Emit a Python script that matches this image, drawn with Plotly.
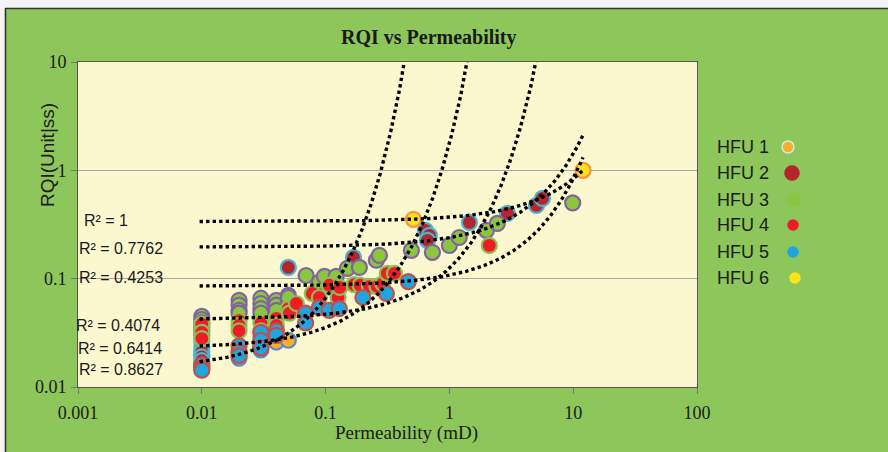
import numpy as np
import plotly.graph_objects as go

# ---------------- data: permeability (mD) and RQI per flow unit ----------------
HFU1_K = [0.01, 0.01, 0.01, 0.02, 0.02, 0.03, 0.03, 0.04, 0.05]
HFU1_RQI = [0.0195, 0.0165, 0.015, 0.0185, 0.0205, 0.022, 0.0245, 0.026, 0.027]

HFU2_K = [0.01, 0.01, 0.01, 0.01, 0.01, 0.05, 0.168, 0.64, 0.69, 0.665, 1.45, 2.94, 5.05, 5.64]
HFU2_RQI = [0.026, 0.023, 0.021, 0.019, 0.0175, 0.127, 0.157, 0.279, 0.251, 0.226, 0.331, 0.401, 0.475, 0.551]

HFU3_K = [0.01, 0.01, 0.01, 0.01, 0.01, 0.01, 0.02, 0.02, 0.02, 0.02, 0.03, 0.03, 0.03, 0.03,
          0.04, 0.04, 0.04, 0.05, 0.05, 0.05, 0.0696, 0.089, 0.098, 0.1216, 0.15, 0.1875,
          0.257, 0.272, 0.493, 0.729, 1.0, 1.2, 1.99, 2.44, 9.9]
HFU3_RQI = [0.045, 0.042, 0.039, 0.036, 0.033, 0.030, 0.063, 0.057, 0.051, 0.048, 0.066, 0.059,
            0.053, 0.048, 0.063, 0.057, 0.051, 0.070, 0.063, 0.067, 0.107, 0.093, 0.105, 0.105,
            0.1245, 0.127, 0.148, 0.164, 0.1825, 0.175, 0.203, 0.24, 0.279, 0.324, 0.50]

HFU4_K = [0.01, 0.01, 0.01, 0.02, 0.02, 0.02, 0.03, 0.03, 0.03, 0.04, 0.04, 0.05, 0.051, 0.058,
          0.078, 0.089, 0.107, 0.126, 0.13, 0.17, 0.19, 0.226, 0.26, 0.29, 0.315, 0.36, 2.1]
HFU4_RQI = [0.038, 0.032, 0.028, 0.041, 0.037, 0.033, 0.039, 0.033, 0.029, 0.043, 0.037, 0.053,
            0.048, 0.059, 0.073, 0.067, 0.087, 0.067, 0.083, 0.088, 0.087, 0.085, 0.085, 0.09,
            0.112, 0.112, 0.203]

HFU5_K = [0.01, 0.01, 0.01, 0.02, 0.02, 0.02, 0.03, 0.03, 0.03, 0.04, 0.04, 0.069, 0.069, 0.089,
          0.107, 0.129, 0.2, 0.31, 0.466]
HFU5_RQI = [0.016, 0.015, 0.0143, 0.024, 0.021, 0.0195, 0.032, 0.027, 0.023, 0.033, 0.030, 0.048,
            0.039, 0.054, 0.051, 0.053, 0.067, 0.073, 0.094]

HFU6_K = [0.512, 12.0]
HFU6_RQI = [0.353, 1.0]

# exponential trendlines  RQI = a * exp(b * k)
TREND_A = [0.0148, 0.196, 0.0855, 0.042, 0.0229, 0.337]
TREND_B = [15.0, 0.198, 0.228, 1.09, 4.35, 0.0906]
TREND_K_START = 0.0096
TREND_K_END = 12.0
R2_TEXT = ["R² = 0.8627", "R² = 0.7762", "R² = 0.4253", "R² = 0.4074", "R² = 0.6414", "R² = 1"]

LEGEND_NAMES = ["HFU 1", "HFU 2", "HFU 3", "HFU 4", "HFU 5", "HFU 6"]
X_TICKS = [0.001, 0.01, 0.1, 1, 10, 100]
X_TICK_TEXT = ["0.001", "0.01", "0.1", "1", "10", "100"]
Y_TICKS = [0.01, 0.1, 1, 10]
Y_TICK_TEXT = ["0.01", "0.1", "1", "10"]

# ---------------- styling ----------------
FILL = ["#F6B02C", "#B4262C", "#8CC63F", "#EE1D25", "#20A6DF", "#FFE31A"]
EDGE = ["#5A8BC8", "#4BB4D0", "#8064A2", "#8DBE55", "#C0504D", "#F7943C"]
BG_GREEN = "#8DC65B"
PLOT_BG = "#FBF8CF"
SERIF = "Liberation Serif"
SANS = "Liberation Sans"
INK = "#1a1a1a"

W, H = 888, 452
L, R, T, B = 78, 191, 62, 65
PW, PH = W - L - R, H - T - B


def px(xp):
    return (xp - L) / PW


def py(yp):
    return (H - B - yp) / PH


series = [(HFU1_K, HFU1_RQI), (HFU2_K, HFU2_RQI), (HFU3_K, HFU3_RQI),
          (HFU4_K, HFU4_RQI), (HFU5_K, HFU5_RQI), (HFU6_K, HFU6_RQI)]

fig = go.Figure()

for i, (k, rqi) in enumerate(series):
    fig.add_trace(go.Scatter(
        x=k, y=rqi, mode="markers", name=LEGEND_NAMES[i], showlegend=False,
        marker=dict(size=15, color=FILL[i], line=dict(color=EDGE[i], width=2.2)),
    ))

# dotted exponential trendlines, drawn over the markers
for a, b in zip(TREND_A, TREND_B):
    k_end = min(TREND_K_END, np.log(30.0 / a) / b)
    kk = np.geomspace(TREND_K_START, k_end, 700)
    fig.add_trace(go.Scatter(
        x=kk, y=a * np.exp(b * kk), mode="lines", showlegend=False, hoverinfo="skip",
        line=dict(color="black", width=3.4, dash="3.4px,3.1px"),
    ))

annotations = [
    dict(text="<b>RQI vs Permeability</b>", x=px(429), y=py(37),
         font=dict(family=SERIF, size=20, color=INK)),
    dict(text="Permeability (mD)", x=px(406), y=py(433),
         font=dict(family=SERIF, size=19, color=INK)),
    dict(text="RQI(Unit|ss)", x=px(47), y=py(155), textangle=-90,
         font=dict(family=SANS, size=19, color=INK)),
]

# R² labels beside the start of each trendline
r2_pos = [(77, 369), (77, 248), (77, 277), (74, 325), (76, 348), (82, 220)]
for txt, (lx, ly) in zip(R2_TEXT, r2_pos):
    annotations.append(dict(text=txt, x=px(lx), y=py(ly), xanchor="left",
                            font=dict(family=SANS, size=16, color=INK)))

# legend block on the right
leg_y = [147, 173, 200, 225, 252, 278]
leg_mx = [788, 792, 794, 793, 793, 795]
leg_r = [6, 7, 6.5, 5, 5, 5]
shapes = [
    dict(type="rect", xref="paper", yref="paper", x0=px(-5), x1=px(W + 5), y0=py(0), y1=py(8),
         fillcolor="#F4F4F4", line=dict(width=0), layer="below"),
    dict(type="rect", xref="paper", yref="paper", x0=px(-5), x1=px(5), y0=py(H + 5), y1=py(0),
         fillcolor="#F4F4F4", line=dict(width=0), layer="below"),
    dict(type="line", xref="paper", yref="paper", x0=px(5), x1=px(W + 5), y0=py(8.5), y1=py(8.5),
         line=dict(color="#333333", width=1.6), layer="below"),
    dict(type="line", xref="paper", yref="paper", x0=px(5.5), x1=px(5.5), y0=py(8), y1=py(H + 5),
         line=dict(color="#333333", width=1.6), layer="below"),
]
for i, name in enumerate(LEGEND_NAMES):
    annotations.append(dict(text=name, x=px(715), y=py(leg_y[i]), xanchor="left",
                            font=dict(family=SANS, size=18, color=INK)))
    cx, cy, r = leg_mx[i], leg_y[i], leg_r[i]
    edge = "#D8E6F2" if i == 0 else FILL[i]
    shapes.append(dict(type="circle", xref="paper", yref="paper",
                       x0=px(cx - r), x1=px(cx + r), y0=py(cy + r), y1=py(cy - r),
                       fillcolor=FILL[i], line=dict(color=edge, width=1.5)))

for an in annotations:
    an.setdefault("xanchor", "center")
    an.update(xref="paper", yref="paper", yanchor="middle", showarrow=False)

axis_common = dict(
    type="log", showline=True, linecolor="#555555", linewidth=1, mirror=True,
    ticks="outside", ticklen=6, tickcolor="#777777", zeroline=False,
    tickfont=dict(family=SERIF, size=18, color=INK),
)
fig.update_layout(
    width=W, height=H, margin=dict(l=L, r=R, t=T, b=B),
    paper_bgcolor=BG_GREEN, plot_bgcolor=PLOT_BG,
    xaxis=dict(range=[-3, 2], tickvals=X_TICKS, ticktext=X_TICK_TEXT, showgrid=False,
               ticklabelstandoff=3, **axis_common),
    yaxis=dict(range=[-2, 1], tickvals=Y_TICKS, ticktext=Y_TICK_TEXT, showgrid=True,
               gridcolor="#A8A8A8", gridwidth=1, ticklabelstandoff=1, **axis_common),
    annotations=annotations, shapes=shapes, showlegend=False,
)

fig.write_html("out.html")
